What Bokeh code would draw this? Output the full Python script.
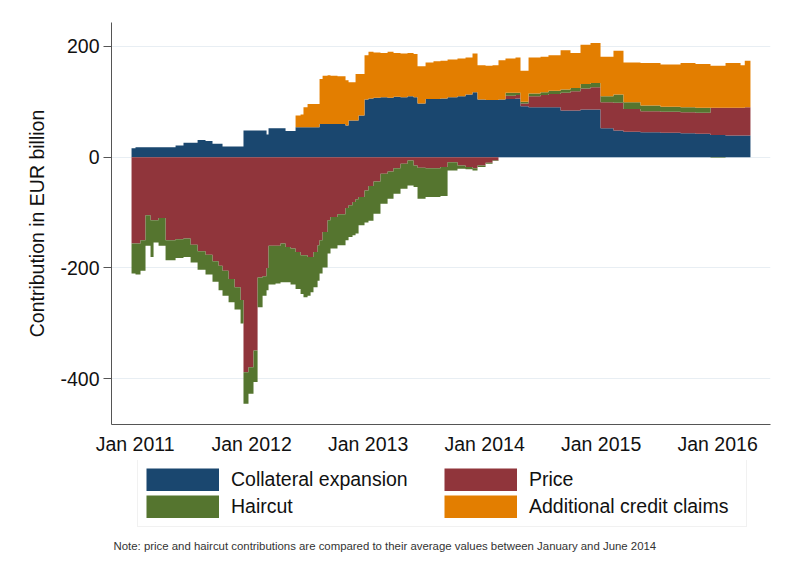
import numpy as np
from bokeh.plotting import figure
from bokeh.layouts import column
from bokeh.models import FixedTicker, Legend, LegendItem, Label, Range1d
from bokeh.embed import file_html
from bokeh.resources import INLINE

# observation dates (decimal years); each value holds until the next date
dates = [2010.969, 2011.003, 2011.046, 2011.089, 2011.132, 2011.158, 2011.201, 2011.261,
         2011.347, 2011.415, 2011.476, 2011.536, 2011.604, 2011.664, 2011.716, 2011.750,
         2011.802, 2011.853, 2011.905, 2011.930, 2011.973, 2012.016, 2012.051, 2012.094,
         2012.128, 2012.145, 2012.205, 2012.248, 2012.291, 2012.334, 2012.377, 2012.420,
         2012.445, 2012.480, 2012.506, 2012.531, 2012.566, 2012.583, 2012.609, 2012.652,
         2012.677, 2012.737, 2012.806, 2012.832, 2012.866, 2012.892, 2012.918, 2012.969,
         2013.003, 2013.046, 2013.106, 2013.167, 2013.218, 2013.278, 2013.338, 2013.390,
         2013.424, 2013.493, 2013.561, 2013.621, 2013.682, 2013.767, 2013.836, 2013.896,
         2013.939, 2014.008, 2014.068, 2014.119, 2014.179, 2014.265, 2014.308, 2014.377,
         2014.480, 2014.548, 2014.652, 2014.737, 2014.823, 2014.909, 2014.995, 2015.106,
         2015.192, 2015.338, 2015.510, 2015.682, 2015.810, 2015.939, 2016.068, 2016.197,
         2016.233]
end_date = 2016.282

collateral = [16, 18, 18, 18, 18, 18, 18, 18,
              21, 26, 26, 31, 29, 24, 24, 19,
              19, 19, 19, 48, 48, 48, 48, 48,
              41, 52, 52, 52, 47, 47, 54, 54,
              54, 54, 54, 54, 54, 60, 60, 60,
              60, 60, 57, 66, 66, 66, 75, 104,
              106, 107, 108, 107, 109, 108, 110, 108,
              97, 105, 105, 106, 108, 110, 113, 117,
              104, 103, 103, 104, 105, 106, 92, 90,
              90, 90, 84, 84, 86, 86, 52, 48,
              46, 45, 44, 43, 42, 40, 39, 39,
              39]
price = [-156, -156, -150, -105, -114, -114, -110, -150,
         -148, -147, -158, -170, -176, -188, -196, -205,
         -220, -235, -258, -388, -379, -349, -217, -215,
         -200, -160, -160, -156, -162, -165, -171, -177,
         -177, -180, -180, -171, -159, -150, -135, -114,
         -108, -103, -92, -87, -81, -76, -72, -60,
         -52, -44, -30, -26, -20, -12, -6, -15,
         -19, -20, -20, -18, -9, -15, -18, -20,
         -15, -10, -6, 0, 6, 6, 5, 20,
         22, 24, 32, 35, 38, 40, 47, 50,
         41, 38, 38, 38, 38, 49, 50, 50,
         51]
haircut = [-54, -56, -55, -55, -66, -40, -50, -36,
           -34, -33, -32, -33, -36, -37, -44, -45,
           -42, -40, -42, -57, -48, -57, -54, -35,
           -40, -70, -68, -70, -64, -65, -67, -70,
           -76, -70, -64, -64, -64, -60, -64, -60,
           -57, -56, -58, -57, -60, -62, -51, -58,
           -63, -58, -54, -49, -46, -45, -45, -39,
           -56, -52, -52, -52, -15, -6, -4, -4,
           -3, -2, -1, 0, 5, 4, 3, 5,
           5, 6, 6, 6, 8, 8, 11, 15,
           12, 10, 9, 9, 9, -1, 0, 0,
           0]
credit_claims = [0, 0, 0, 0, 0, 0, 0, 0,
                 0, 0, 0, 0, 0, 0, 0, 0,
                 0, 0, 0, 0, 0, 0, 0, 0,
                 0, 0, 0, 0, 0, 0, 21, 23,
                 36, 42, 42, 42, 42, 81, 87, 88,
                 87, 86, 82, 69, 69, 84, 75, 80,
                 84, 82, 80, 83, 79, 79, 78, 78,
                 67, 66, 68, 68, 68, 68, 67, 70,
                 62, 62, 63, 71, 62, 64, 56, 65,
                 64, 64, 71, 63, 71, 72, 71, 79,
                 72, 77, 76, 80, 79, 76, 81, 77,
                 84]

year_ticks = [2011, 2012, 2013, 2014, 2015, 2016]
year_labels = ["Jan 2011", "Jan 2012", "Jan 2013", "Jan 2014", "Jan 2015", "Jan 2016"]
y_ticks = [-400, -200, 0, 200]
y_labels = ["-400", "-200", "0", "200"]

names = ["Collateral expansion", "Price", "Haircut", "Additional credit claims"]
colors = ["#1a476f", "#90353b", "#55752f", "#e37e00"]
note = ("Note: price and haircut contributions are compared to their average values "
        "between January and June 2014")

FONT = "Liberation Sans"

t = np.array(dates, dtype=float)
C = np.array(collateral, dtype=float)
P = np.array(price, dtype=float)
H = np.array(haircut, dtype=float)
A = np.array(credit_claims, dtype=float)

Pp, Pn = np.maximum(P, 0), np.minimum(P, 0)
Hp, Hn = np.maximum(H, 0), np.minimum(H, 0)
Z = np.zeros_like(C)

xs = np.empty(2 * len(t))
xs[0::2] = t
xs[1::2] = np.append(t[1:], end_date)


def st(v):
    return np.repeat(v, 2)


# (lower, upper) edges of each stacked band, per series
bands = [
    [(Z, C)],
    [(C, C + Pp), (Z, Pn)],
    [(C + Pp, C + Pp + Hp), (Pn, Pn + Hn)],
    [(C + Pp + Hp, C + Pp + Hp + A)],
]

p = figure(frame_width=659, frame_height=402,
           min_border_left=111, min_border_right=19, min_border_top=22, min_border_bottom=36,
           x_range=Range1d(2010.797, 2016.454), y_range=Range1d(-482.5, 243),
           output_backend="svg", toolbar_location=None,
           background_fill_color="white", border_fill_color="white")
p.outline_line_color = None

for col, parts in zip(colors, bands):
    for lo, hi in parts:
        p.varea(x=xs, y1=st(lo), y2=st(hi), fill_color=col)

# axes
p.xaxis.ticker = FixedTicker(ticks=year_ticks)
p.xaxis.major_label_overrides = {y: l for y, l in zip(year_ticks, year_labels)}
p.yaxis.ticker = FixedTicker(ticks=y_ticks)
p.yaxis.major_label_overrides = {v: l for v, l in zip(y_ticks, y_labels)}

for ax in (p.xaxis[0], p.yaxis[0]):
    ax.axis_line_color = "#555555"
    ax.axis_line_width = 1
    ax.major_label_text_font = FONT
    ax.major_label_text_font_size = "19.5px"
    ax.major_label_text_color = "#111111"
    ax.minor_tick_line_color = None

p.xaxis.major_tick_line_color = None
p.xaxis.major_tick_out = 0
p.xaxis.major_tick_in = 0
p.xaxis.major_label_standoff = 8

p.yaxis.major_tick_line_color = "#555555"
p.yaxis.major_tick_out = 8
p.yaxis.major_tick_in = 0
p.yaxis.major_label_standoff = 4
p.yaxis.axis_label = "Contribution in EUR billion"
p.yaxis.axis_label_text_font = FONT
p.yaxis.axis_label_text_font_size = "19.5px"
p.yaxis.axis_label_text_font_style = "normal"
p.yaxis.axis_label_text_color = "#111111"
p.yaxis.axis_label_standoff = 9

p.xgrid.grid_line_color = None
p.ygrid.grid_line_color = "#e8eef3"
p.ygrid.grid_line_width = 1

# legend + note panel beneath the chart (its frame is aligned with the chart's)
leg = figure(width=789, height=110, x_range=Range1d(0, 1), y_range=Range1d(0, 1),
             x_axis_type=None, y_axis_type=None, output_backend="svg",
             toolbar_location=None, min_border=0,
             background_fill_color="white", border_fill_color="white")
leg.outline_line_color = None
leg.xgrid.grid_line_color = None
leg.ygrid.grid_line_color = None

# hidden thick lines give full-size rectangular legend swatches
swatches = []
for col, parts in zip(colors, bands):
    lo, hi = parts[0]
    swatches.append(leg.line(x=xs, y=st(hi), line_color=col, line_width=23,
                             line_cap="butt", visible=False))

legend = Legend(items=[LegendItem(label=n, renderers=[r]) for n, r in zip(names, swatches)],
                orientation="horizontal", ncols=2, location=(26, 43),
                glyph_width=73, glyph_height=23, label_standoff=12,
                label_width=209, label_height=23, spacing=4, padding=8, margin=0,
                border_line_color="#e3e3e3", border_line_width=1,
                background_fill_color="white", click_policy="none",
                inactive_fill_alpha=0.0,
                label_text_font=FONT, label_text_font_size="19.5px",
                label_text_color="#111111")
leg.add_layout(legend)

leg.add_layout(Label(x=2, y=25, x_units="screen", y_units="screen", text=note,
                     text_font=FONT, text_font_size="11.4px", text_color="#333333",
                     text_baseline="middle", text_align="left"))

layout = column(p, leg, spacing=0)
open("out.html", "w").write(file_html(layout, INLINE))
